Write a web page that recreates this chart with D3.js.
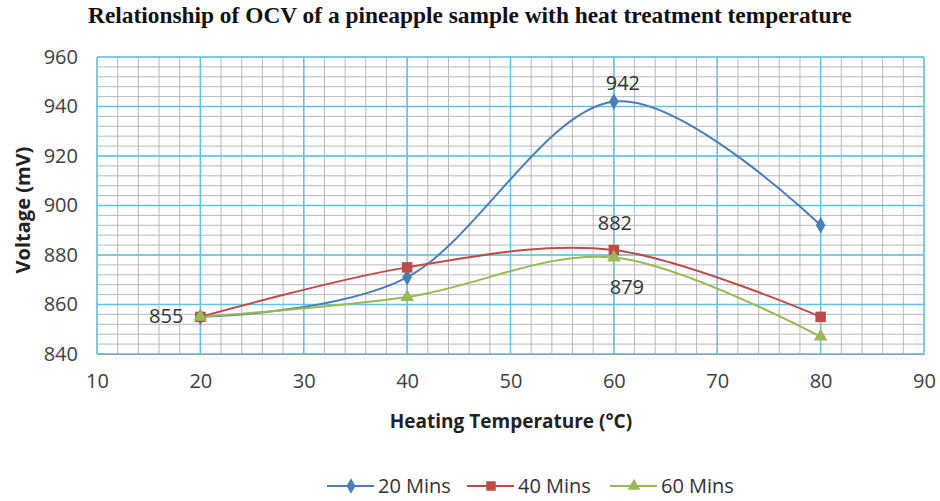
<!DOCTYPE html>
<html>
<head>
<meta charset="utf-8">
<script src="https://cdn.jsdelivr.net/npm/d3@7"></script>
<style>
  body { margin: 0; background: #fff; }
  text { font-family: "Open Sans", sans-serif; fill: #404040; }
</style>
</head>
<body>
<svg width="940" height="501"></svg>
<script>
// temperatures and voltages
const temps = [20, 40, 60, 80];
const mins20 = [855, 871, 942, 892];
const mins40 = [855, 875, 882, 855];
const mins60 = [855, 863, 879, 847];
const seriesNames = ["20 Mins", "40 Mins", "60 Mins"];
const seriesColors = ["#4a7ebb", "#be4b48", "#98b954"];
const xTicks = [10, 20, 30, 40, 50, 60, 70, 80, 90];
const yTicks = [840, 860, 880, 900, 920, 940, 960];

const series = [mins20, mins40, mins60].map((vals, i) => ({
  name: seriesNames[i],
  color: seriesColors[i],
  shape: [d3.symbolDiamond, d3.symbolSquare, d3.symbolTriangle][i],
  pts: vals.map((v, j) => ({x: temps[j], y: v}))
}));

const svg = d3.select("svg");
const plotL = 97, plotR = 924, plotT = 57, plotB = 354;

const x = d3.scaleLinear().domain([10, 90]).range([plotL, plotR]);
const y = d3.scaleLinear().domain([840, 960]).range([plotB, plotT]);

// title, squeezed into the width it has in the picture
const title = svg.append("text")
  .attr("x", 0).attr("y", 0)
  .style("font-family", "'Liberation Serif', serif")
  .style("font-weight", "bold")
  .style("font-size", "23px")
  .style("fill", "#111")
  .text("Relationship of OCV of a pineapple sample with heat treatment  temperature");
const tw = title.node().getComputedTextLength();
const sx = 764 / tw;
title.attr("transform", `translate(88,23) scale(${sx},1)`);

// minor grid
const g = svg.append("g");
g.selectAll(".vmin").data(d3.range(10, 90.1, 2)).join("line")
  .attr("x1", d => x(d)).attr("x2", d => x(d))
  .attr("y1", plotT).attr("y2", plotB)
  .attr("stroke", "#b8b8c0").attr("stroke-width", 1);
g.selectAll(".hmin").data(d3.range(840, 960.1, 4)).join("line")
  .attr("y1", d => y(d)).attr("y2", d => y(d))
  .attr("x1", plotL).attr("x2", plotR)
  .attr("stroke", "#b8b8c0").attr("stroke-width", 1);

// major grid
g.selectAll(".vmaj").data(xTicks).join("line")
  .attr("x1", d => x(d)).attr("x2", d => x(d))
  .attr("y1", plotT).attr("y2", plotB)
  .attr("stroke", "#5cc6e0").attr("stroke-width", 1.5);
g.selectAll(".hmaj").data(yTicks).join("line")
  .attr("y1", d => y(d)).attr("y2", d => y(d))
  .attr("x1", plotL).attr("x2", plotR)
  .attr("stroke", "#5cc6e0").attr("stroke-width", 1.5);

// axes (labels only, lines come from the grid)
const xAxis = svg.append("g")
  .attr("transform", `translate(0,${plotB})`)
  .call(d3.axisBottom(x).tickValues(xTicks).tickSize(0).tickPadding(20));
xAxis.select(".domain").attr("stroke", "#a0a0a0");
xAxis.selectAll("text").style("font-size", "20px").style("font-family", "'Open Sans', sans-serif").attr("fill", "#404040");

const yAxis = svg.append("g")
  .attr("transform", `translate(${plotL},0)`)
  .call(d3.axisLeft(y).tickValues(yTicks).tickSize(0).tickPadding(19));
yAxis.select(".domain").remove();
yAxis.selectAll("text").style("font-size", "20px").style("font-family", "'Open Sans', sans-serif").attr("fill", "#404040");

// axis titles
svg.append("text")
  .attr("x", 511).attr("y", 428)
  .attr("text-anchor", "middle")
  .style("font-weight", "bold").style("font-size", "19px").style("fill", "#222")
  .text("Heating Temperature (°C)");
svg.append("text")
  .attr("transform", "translate(30,210) rotate(-90)")
  .attr("text-anchor", "middle")
  .style("font-weight", "bold").style("font-size", "20px").style("fill", "#222")
  .text("Voltage (mV)");

// smoothed lines
const line = d3.line()
  .x(d => x(d.x)).y(d => y(d.y))
  .curve(d3.curveCardinal.tension(0));

series.forEach(s => {
  svg.append("path")
    .attr("d", line(s.pts))
    .attr("fill", "none")
    .attr("stroke", s.color)
    .attr("stroke-width", 2);
});
// markers on top
series.forEach(s => {
  svg.selectAll(null).data(s.pts).join("path")
    .attr("transform", d => `translate(${x(d.x)},${y(d.y)})`)
    .attr("d", d3.symbol().type(s.shape).size(s.shape === d3.symbolSquare ? 110 : 80))
    .attr("fill", s.color);
});

// data labels
const labels = [
  {x: 60, y: 942, dx: 9, dy: -12, text: "942"},
  {x: 60, y: 882, dx: 1, dy: -20, text: "882"},
  {x: 60, y: 879, dx: 13, dy: 37, text: "879"},
  {x: 20, y: 855, dx: -17, dy: 6, text: "855"}
];
svg.selectAll(".lab").data(labels).join("text")
  .attr("x", d => x(d.x) + d.dx)
  .attr("y", d => y(d.y) + d.dy)
  .attr("text-anchor", d => d.dx < 0 ? "end" : "middle")
  .style("font-size", "20px")
  .style("fill", "#333")
  .text(d => d.name || d.text);

// legend
const legendX = [327, 467, 610];
const leg = svg.selectAll(".leg").data(series).join("g")
  .attr("transform", (d, i) => `translate(${legendX[i]},486)`);
leg.append("line")
  .attr("x1", 0).attr("x2", 47)
  .attr("stroke", d => d.color).attr("stroke-width", 2);
leg.append("path")
  .attr("transform", "translate(24,0)")
  .attr("d", d => d3.symbol().type(d.shape).size(d.shape === d3.symbolSquare ? 90 : 70)())
  .attr("fill", d => d.color);
leg.append("text")
  .attr("x", 51).attr("y", 7)
  .style("font-size", "20px")
  .style("fill", "#333")
  .text(d => d.name);
</script>
</body>
</html>
